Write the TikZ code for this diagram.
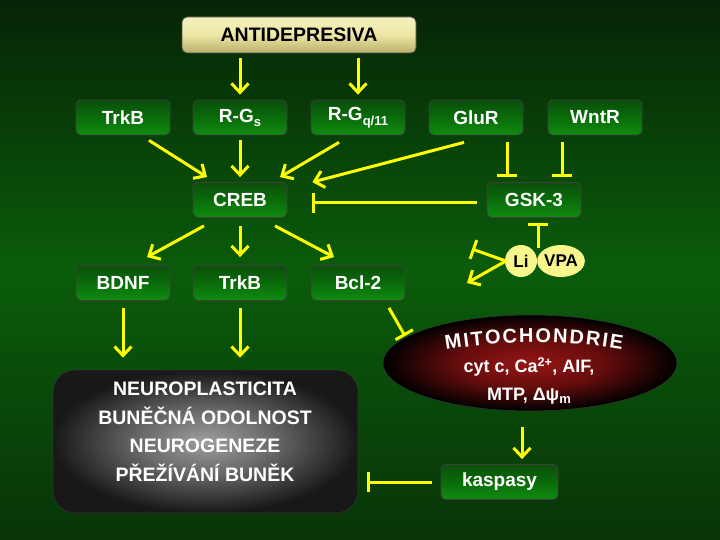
\documentclass[tikz,border=0pt]{standalone}
\usepackage{fontspec}
\setmainfont{Liberation Sans}
\usetikzlibrary{arrows.meta,shapes.geometric,decorations.text,calc}
\definecolor{yel}{RGB}{255,255,0}
\definecolor{bgtop}{RGB}{6,36,6}
\definecolor{bgmid}{RGB}{10,92,10}
\definecolor{bgbot}{RGB}{8,52,8}
\definecolor{gtop}{RGB}{10,78,10}
\definecolor{gmid}{RGB}{10,108,10}
\definecolor{gbot}{RGB}{16,140,16}
\definecolor{ctop}{RGB}{246,241,190}
\definecolor{cmid}{RGB}{236,230,166}
\definecolor{cbot}{RGB}{184,176,104}
\definecolor{pale}{RGB}{246,246,140}
\definecolor{mitoin}{RGB}{150,22,22}
\definecolor{mitomid}{RGB}{100,12,12}
\definecolor{bigin}{RGB}{158,158,158}
\definecolor{bigmid}{RGB}{105,105,105}
\definecolor{bigout}{RGB}{24,24,24}
\pgfdeclareradialshading{bigshade}{\pgfpoint{0bp}{0bp}}{color(0bp)=(bigin); color(11bp)=(bigmid); color(25bp)=(bigout); color(50bp)=(bigout)}
\pgfdeclareradialshading{mitoshade}{\pgfpoint{0bp}{0bp}}{color(0bp)=(mitoin); color(13bp)=(mitomid); color(25bp)=(black); color(50bp)=(black)}
\begin{document}
\begin{tikzpicture}[x=1pt,y=-1pt,
  gbox/.style={rounded corners=5pt, draw=black!75, line width=0.8pt,
    top color=gtop, bottom color=gbot, middle color=gmid,
    minimum width=94pt, minimum height=35pt, inner sep=0pt,
    text=white, font=\fontsize{19}{22}\selectfont\bfseries},
  arr/.style={draw=yel, line width=3pt, -{Straight Barb[length=9pt,width=17pt]}},
  inh/.style={draw=yel, line width=3pt, -{Bar[width=20pt,line width=3pt]}},
  pill/.style={fill=pale, inner sep=0pt, text=black, font=\fontsize{17}{20}\selectfont\bfseries}]
\fill[top color=bgtop, bottom color=bgbot, middle color=bgmid] (0,0) rectangle (720,540);
\useasboundingbox (0,0) rectangle (720,540);

\node[rounded corners=5pt, draw=black!70, line width=0.8pt,
  top color=ctop, bottom color=cbot, middle color=cmid,
  minimum width=234pt, minimum height=36pt, inner sep=0pt,
  font=\fontsize{19.5}{22}\selectfont\bfseries] (ant) at (299,35) {ANTIDEPRESIVA};

\node[gbox] (trkb1) at (123,117.5) {TrkB};
\node[gbox] (rgs) at (240,117.5) {R-G\raisebox{-0.4ex}{\fontsize{13}{13}\selectfont s}};
\node[gbox] (rgq) at (358,117.5) {R-G\raisebox{-0.45ex}{\fontsize{13}{13}\selectfont q/11}};
\node[gbox] (glur) at (476,117.5) {GluR};
\node[gbox] (wntr) at (595,117.5) {WntR};

\node[gbox] (creb) at (240,200) {CREB};
\node[gbox] (gsk) at (534,200) {GSK-3};

\node[gbox] (bdnf) at (123,283) {BDNF};
\node[gbox] (trkb2) at (240,283) {TrkB};
\node[gbox] (bcl) at (358,283) {Bcl-2};

\node[pill, ellipse, minimum width=46pt, minimum height=32pt] (vpa) at (561,261) {VPA};
\node[pill, circle, minimum size=32pt] (li) at (521,261) {Li};

\node[ellipse, draw=black!80, line width=0.6pt, shading=mitoshade,
  minimum width=294pt, minimum height=96pt, inner sep=0pt] (mito) at (530,363) {};
\path[decorate, decoration={text along path,
  text={|\fontsize{20}{20}\selectfont\bfseries\color{white}|MITOCHONDRIE},
  text align=fit to path}]
  (446,350) .. controls (505,340) and (565,340) .. (622,350);
\node[text=white, align=center, font=\fontsize{18}{28}\selectfont\bfseries] (mitotxt) at (529,381)
  {cyt c, Ca\textsuperscript{2+}, AIF,\\MTP, Δψ\raisebox{-0.35ex}{\fontsize{13}{13}\selectfont m}};

\node[gbox, minimum width=117pt] (kasp) at (499.5,482) {kaspasy};

\node[rounded corners=22pt, draw=black!80, line width=0.6pt, shading=bigshade,
  minimum width=305pt, minimum height=143pt, inner sep=0pt] (big) at (205.5,441.5) {};
\node[text=white, align=center, font=\fontsize{19.5}{28.5}\selectfont\bfseries] (bigtxt) at (205,432)
  {NEUROPLASTICITA\\BUNĚČNÁ ODOLNOST\\NEUROGENEZE\\PŘEŽÍVÁNÍ BUNĚK};

\coordinate (lifree1) at (472,249);
\coordinate (lifree2) at (467,283);

% connectors
\draw[arr] ($(ant.south -| rgs.north)+(0,5)$) -- ($(rgs.north)+(0,-5)$);
\draw[arr] ($(ant.south -| rgq.north)+(0,5)$) -- ($(rgq.north)+(0,-5)$);

\draw[arr] ($(trkb1.south)+(26,5)$) -- ($(creb.north)+(-33,-5)$);
\draw[arr] ($(rgs.south)+(0,5)$) -- ($(creb.north)+(0,-5)$);
\draw[arr] ($(rgq.south)+(-19,7)$) -- ($(creb.north)+(40,-5)$);
\draw[arr] ($(glur.south)+(-12,7)$) -- ($(creb.north east)+(25,0)$);
\draw[inh] ($(glur.south)+(31,7)$) -- ($(gsk.north)+(-27,-5)$);
\draw[inh] ($(wntr.south)+(-33,7)$) -- ($(gsk.north)+(28,-5)$);
\draw[inh] ($(gsk.west)+(-10,3)$) -- ($(creb.east)+(25,3)$);

\draw[arr] ($(creb.south)+(-36,8)$) -- ($(bdnf.north)+(24,-8)$);
\draw[arr] ($(creb.south)+(0,8)$) -- ($(trkb2.north)+(0,-8)$);
\draw[arr] ($(creb.south)+(35,8)$) -- ($(bcl.north)+(-24,-8)$);

\draw[inh] ($(li.east)+(1,-13)$) -- ($(li.east |- gsk.south)+(1,5)$);
\draw[inh] ($(li.west)+(1,0)$) -- (lifree1);
\draw[arr] ($(li.west)+(1,0)$) -- (lifree2);

\draw[inh] ($(bcl.south)+(31,7)$) -- ($(mito.center)+(-125,-27)$);
\draw[arr] ($(mito.south)+(-8,16)$) -- ($(kasp.north)+(22.5,-5)$);
\draw[inh] ($(kasp.west)+(-9,0)$) -- ($(big.east |- kasp.west)+(9,0)$);

\draw[arr] ($(bdnf.south)+(0,7)$) -- ($(big.north -| bdnf.south)+(0,-12)$);
\draw[arr] ($(trkb2.south)+(0,7)$) -- ($(big.north -| trkb2.south)+(0,-12)$);
\end{tikzpicture}
\end{document}
